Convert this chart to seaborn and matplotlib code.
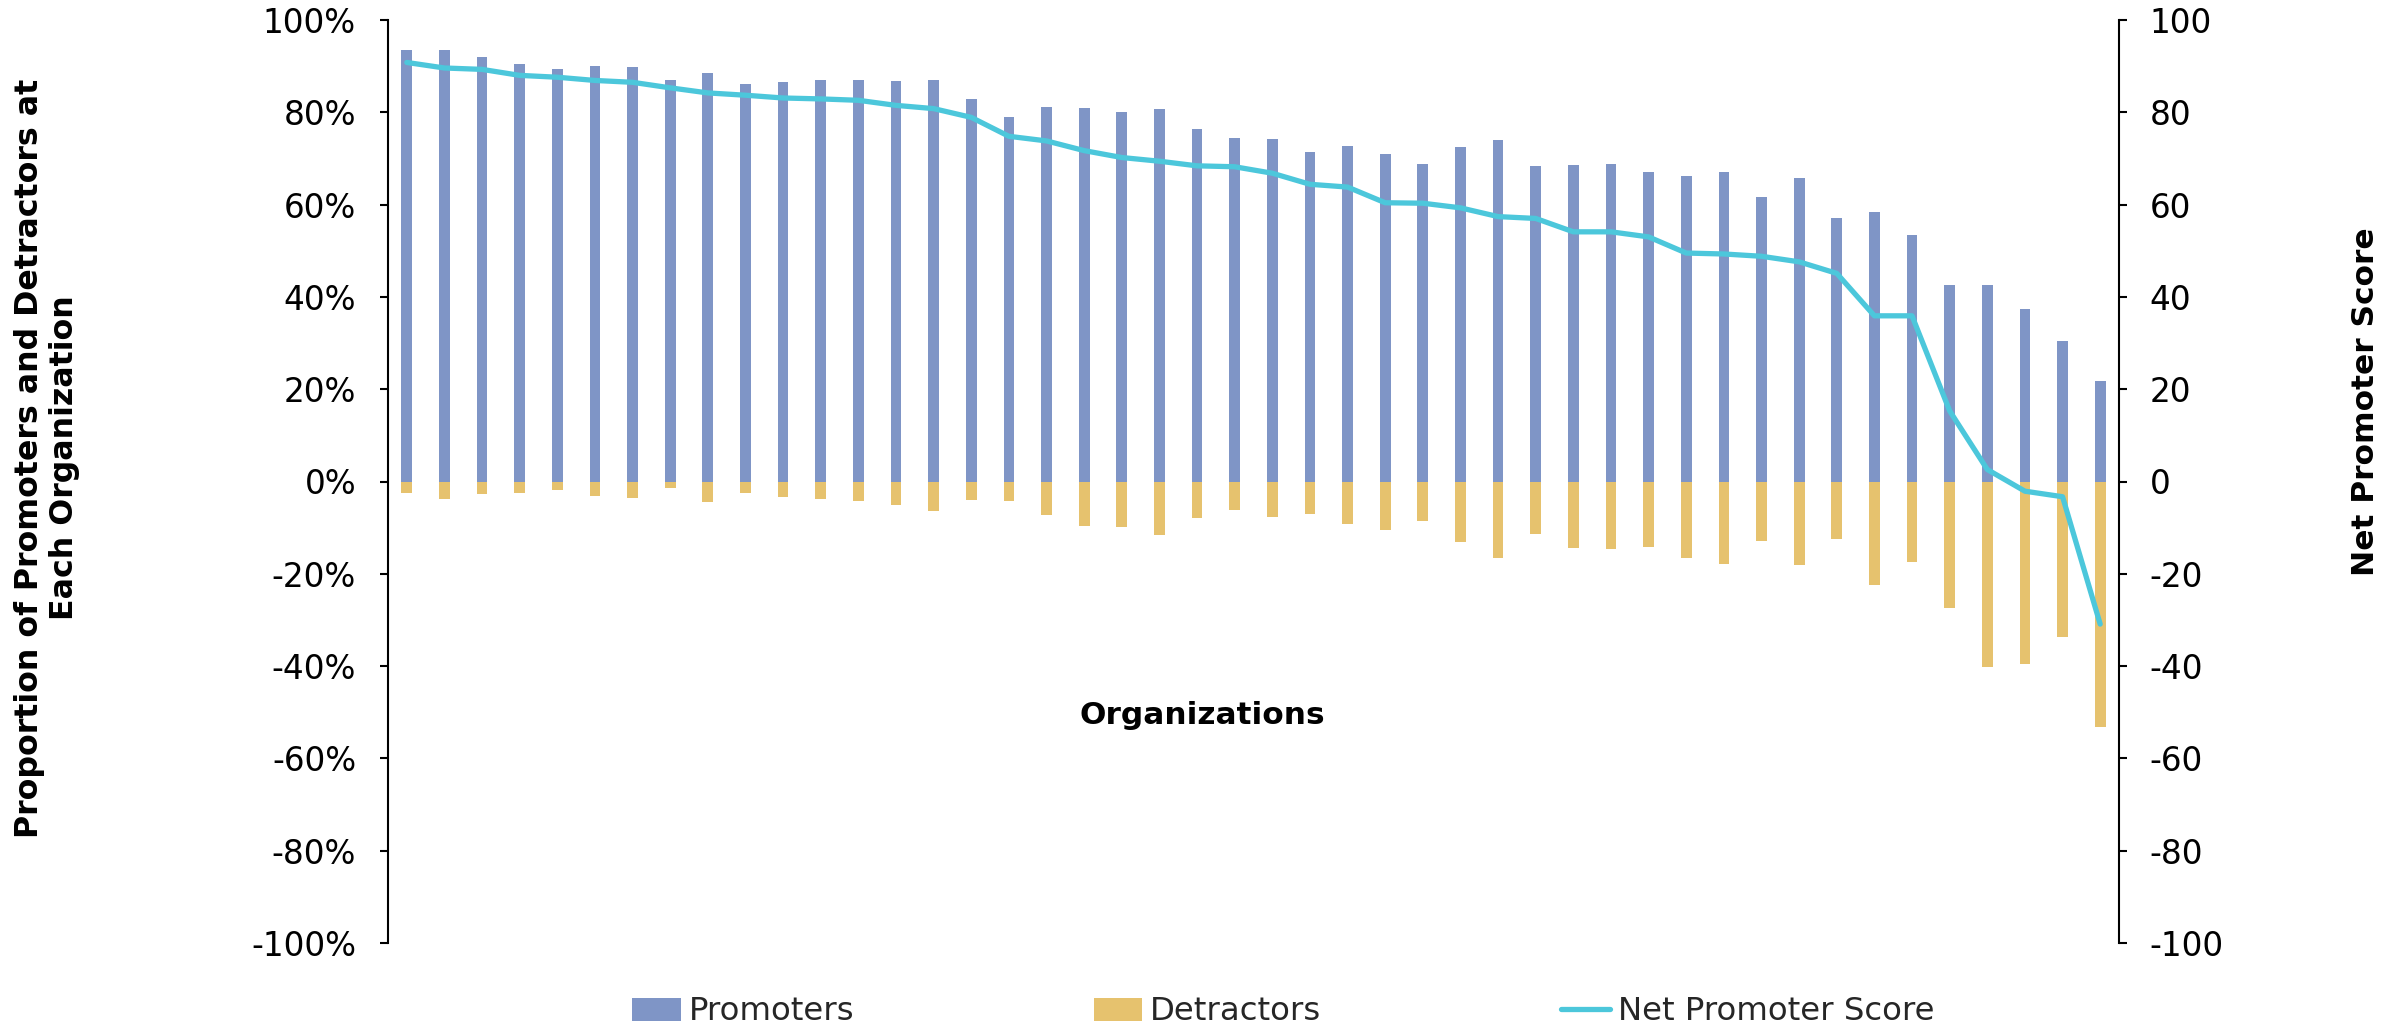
import numpy as np
import pandas as pd
import matplotlib
matplotlib.use("Agg")
import matplotlib.pyplot as plt
from matplotlib.ticker import FuncFormatter, MultipleLocator
from matplotlib.patches import Patch
from matplotlib.lines import Line2D
import seaborn as sns

# Survey results per organization (percent of respondents)
organizations = [f"Org {i:02d}" for i in range(1, 47)]
promoters = [93.4, 93.4, 92.0, 90.5, 89.3, 90.1, 89.9, 86.9, 88.6, 86.2,
             86.5, 86.9, 86.9, 86.7, 87.1, 82.9, 78.9, 81.1, 81.0, 80.1,
             80.8, 76.3, 74.4, 74.2, 71.4, 72.7, 70.9, 68.9, 72.5, 73.9,
             68.3, 68.6, 68.8, 67.1, 66.1, 67.1, 61.6, 65.8, 57.2, 58.4,
             53.5, 42.6, 42.6, 37.3, 30.4, 21.8]
detractors = [2.5, 3.9, 2.7, 2.5, 1.8, 3.2, 3.5, 1.4, 4.5, 2.4,
              3.4, 3.9, 4.3, 5.2, 6.3, 4.1, 4.3, 7.3, 9.6, 9.9,
              11.6, 7.9, 6.1, 7.6, 7.1, 9.2, 10.5, 8.6, 13.2, 16.5,
              11.3, 14.5, 14.7, 14.1, 16.6, 17.8, 12.8, 18.1, 12.4, 22.5,
              17.5, 27.4, 40.1, 39.5, 33.8, 53.1]
nps = [90.8, 89.6, 89.3, 88.0, 87.6, 86.9, 86.5, 85.3, 84.2, 83.7,
       83.1, 82.9, 82.6, 81.5, 80.8, 78.9, 74.8, 73.8, 71.7, 70.2,
       69.4, 68.4, 68.2, 66.8, 64.4, 63.8, 60.4, 60.3, 59.3, 57.4,
       57.0, 54.1, 54.1, 53.0, 49.5, 49.3, 48.8, 47.6, 45.1, 35.9,
       35.9, 15.3, 2.6, -2.1, -3.3, -30.9]

series_labels = ["Promoters", "Detractors", "Net Promoter Score"]
colors = {"Promoters": "#7F95C6", "Detractors": "#E6C26E",
          "Net Promoter Score": "#4CC7DB"}

# Detractors are drawn below zero
shares = pd.DataFrame({
    "Organization": organizations * 2,
    "Share": promoters + [-d for d in detractors],
    "Group": ["Promoters"] * len(promoters) + ["Detractors"] * len(detractors),
})

sns.set_style("white")
plt.rcParams["font.family"] = ["DejaVu Sans"]
FS = 22.5
TICK_FS = 23.5

fig = plt.figure(figsize=(24.04, 10.30), dpi=100)
ax = fig.add_axes([388 / 2404, 87 / 1030, (2119 - 388) / 2404, (943 - 20) / 1030])

sns.barplot(data=shares, x="Organization", y="Share", hue="Group",
            dodge=False, width=0.285, errorbar=None, linewidth=0,
            saturation=1, palette=colors, legend=False, ax=ax)

ax2 = ax.twinx()
sns.lineplot(x=organizations, y=nps, sort=False, color=colors["Net Promoter Score"],
             linewidth=3.8, ax=ax2)

ax.set_xlim(-0.5, len(organizations) - 0.5)
ax.set_ylim(-100, 100)
ax2.set_ylim(-100, 100)
for a in (ax, ax2):
    a.yaxis.set_major_locator(MultipleLocator(20))
    a.set_xlabel("")
    a.set_ylabel("")
    a.set_xticks([])
    for s in a.spines.values():
        s.set_visible(False)

ax.spines["left"].set_visible(True)
ax.spines["left"].set_linewidth(1.5)
ax.spines["left"].set_color("black")
ax2.spines["right"].set_visible(True)
ax2.spines["right"].set_linewidth(1.5)
ax2.spines["right"].set_color("black")

ax.yaxis.set_major_formatter(FuncFormatter(lambda v, p: f"{v:.0f}%"))
ax2.yaxis.set_major_formatter(FuncFormatter(lambda v, p: f"{v:.0f}"))
ax.tick_params(axis="y", left=True, right=False, direction="out", length=6,
               width=1.5, pad=17, labelsize=TICK_FS, colors="black")
ax2.tick_params(axis="y", right=True, left=False, direction="out", length=6,
                width=1.5, pad=16, labelsize=TICK_FS, colors="black")
ax.tick_params(axis="x", bottom=False, labelbottom=False)
ax2.tick_params(axis="x", bottom=False, labelbottom=False)

# Axis titles
fig.text(47 / 2404, 1 - 458 / 1030,
         "Proportion of Promoters and Detractors at\nEach Organization",
         rotation=90, ha="center", va="center", multialignment="center",
         fontsize=FS + 0.3, fontweight="bold", color="black")
fig.text(2365 / 2404, 1 - 402 / 1030, "Net Promoter Score", rotation=90,
         ha="center", va="center", fontsize=FS, fontweight="bold", color="black")
fig.text(0.5, 1 - 715 / 1030, "Organizations", ha="center", va="center",
         fontsize=FS, fontweight="bold", color="black")

handles = [Patch(facecolor=colors["Promoters"], edgecolor="none"),
           Patch(facecolor=colors["Detractors"], edgecolor="none"),
           Line2D([], [], color=colors["Net Promoter Score"], linewidth=3.8)]
fig.legend(handles, series_labels, ncol=3, loc="center left",
           bbox_to_anchor=(632 / 2404, 1 - 1012 / 1030), frameon=False,
           fontsize=FS + 0.8, handlelength=1.5, handletextpad=0.25,
           columnspacing=7.4, borderpad=0, borderaxespad=0)

fig.savefig("out.png", dpi=100)
